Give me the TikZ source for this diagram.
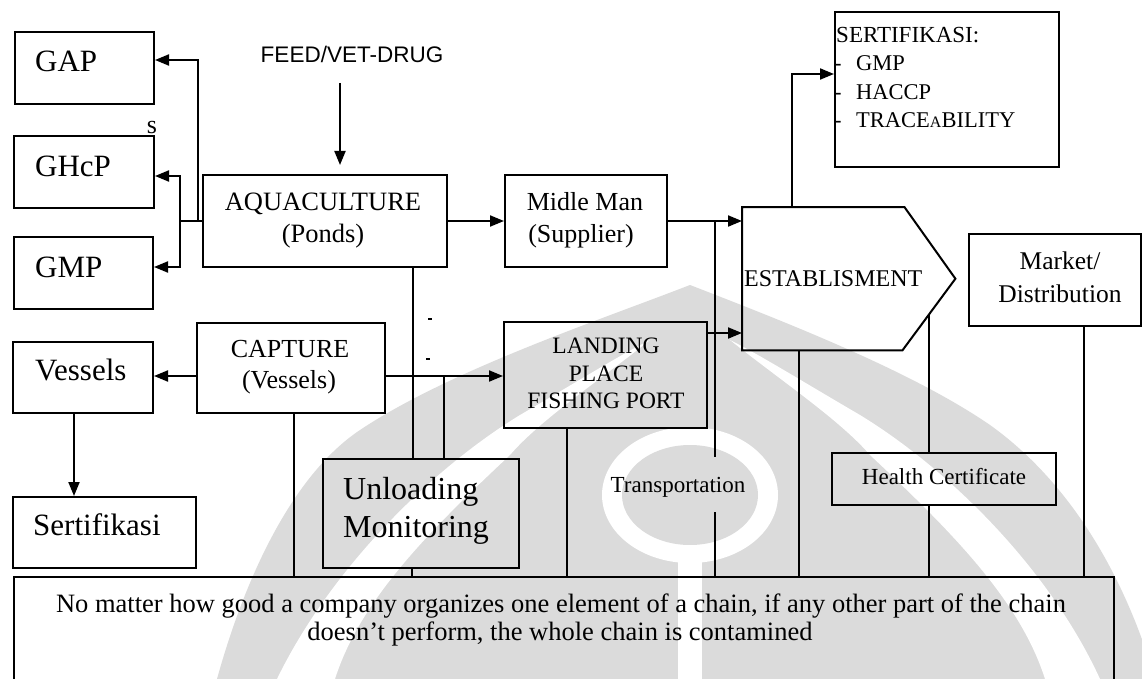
\documentclass[tikz,border=0pt]{standalone}
\usepackage{fontspec}
\setmainfont{Liberation Serif}[Ligatures={TeX,NoCommon}]
\newfontfamily\labelsans{Liberation Sans}
\usetikzlibrary{arrows.meta,calc}
\newcommand{\fsz}[1]{\fontsize{#1}{#1}\selectfont}

\begin{document}
\begin{tikzpicture}[x=1pt,y=-1pt,
  box/.style={draw, line width=2pt, inner sep=0pt, anchor=north west},
  area/.style={inner sep=0pt, anchor=north west},
  link/.style={line width=2pt},
  arr/.style={link, -{Triangle[length=14pt,width=11pt]}},
  lbl/.style={inner sep=0pt, anchor=base west},
  clbl/.style={inner sep=0pt, anchor=base},
  wm/.style={fill=black!14}]

\useasboundingbox (0,0) rectangle (1142,679);
\fill[white] (0,0) rectangle (1142,679);

% faint emblem behind the chart
\fill[wm] (217,679) .. controls (250,560) and (300,470) .. (360,430)
          .. controls (450,370) and (600,320) .. (690,285)
          .. controls (780,320) and (910,370) .. (990,425)
          .. controls (1060,475) and (1120,560) .. (1155,679) -- cycle;
\fill[white] (277,679) .. controls (330,570) and (430,470) .. (520,415)
          .. controls (580,380) and (620,355) .. (650,340)
          .. controls (600,380) and (540,420) .. (510,455)
          .. controls (430,530) and (360,600) .. (335,679) -- cycle;
\fill[white] (1100,679) .. controls (1050,570) and (950,470) .. (860,415)
          .. controls (800,380) and (760,355) .. (730,340)
          .. controls (780,380) and (840,420) .. (870,455)
          .. controls (950,530) and (1020,600) .. (1045,679) -- cycle;
\fill[white] (690,495) ellipse [x radius=88pt, y radius=68pt];
\fill[wm] (690,495) ellipse [x radius=68pt, y radius=50pt];
\fill[white] (678,545) rectangle (702,690);

% boxes
\node[box, minimum width=139, minimum height=72] (gap) at (14,31) {};
\node[box, minimum width=140, minimum height=72] (ghcp) at (13,135) {};
\node[box, minimum width=139, minimum height=72] (gmp) at (13,236) {};
\node[box, minimum width=244, minimum height=92] (aqua) at (202,174) {};
\node[box, minimum width=162, minimum height=92] (midle) at (504,174) {};
\node[box, minimum width=224, minimum height=155] (sert) at (834,11) {};
\node[area, minimum width=213, minimum height=143] (estab) at (742,207) {};
\node[box, minimum width=172, minimum height=92] (market) at (968,233) {};
\node[box, minimum width=188, minimum height=90] (capture) at (196,322) {};
\node[box, minimum width=140, minimum height=71] (vessels) at (12,341) {};
\node[box, minimum width=183, minimum height=71] (sertL) at (12,496) {};
\node[box, minimum width=196, minimum height=109] (unload) at (322,458) {};
\node[box, minimum width=203, minimum height=106] (landing) at (503,321) {};
\node[box, minimum width=224, minimum height=52] (health) at (831,452) {};
\node[box, minimum width=1100, minimum height=140] (bottom) at (13,576) {};

% establishment outline (pointing right)
\draw[line width=2pt, line join=miter]
  (estab.north west) -- ([xshift=-51pt]estab.north east) -- (estab.east)
  -- ([xshift=-53pt]estab.south east) -- (estab.south west) -- cycle;

% labels
\node[lbl, font=\fsz{31}] (tgap) at (35,72) {GAP};
\node[lbl, font=\fsz{31}] (tghcp) at (35,176) {GHcP};
\node[lbl, font=\fsz{31}] (tgmp) at (35,277) {GMP};
\node[clbl, font=\fsz{26}] (ts) at (152,134) {s};
\node[clbl, font=\labelsans\fsz{22.5}] (feed) at (352,63) {FEED/VET-DRUG};
\node[clbl, font=\fsz{26.5}] (taqua1) at (323,211) {AQUACULTURE};
\node[clbl, font=\fsz{26.5}] (taqua2) at (323,242) {(Ponds)};
\node[clbl, font=\fsz{26}] (tmid1) at (585,210) {Midle Man};
\node[clbl, font=\fsz{26}] (tmid2) at (581,242) {(Supplier)};
\node[lbl, font=\fsz{23}] (tsert0) at (836,43) {SERTIFIKASI:};
\node[lbl, font=\fsz{22.5}] (tsert1) at (834,71) {\makebox[22pt][l]{-}GMP};
\node[lbl, font=\fsz{22.5}] (tsert2) at (834,100) {\makebox[22pt][l]{-}HACCP};
\node[lbl, font=\fsz{22.5}] (tsert3) at (834,128) {\makebox[22pt][l]{-}TRACE{\fsz{16}A}BILITY};
\node[lbl, font=\fsz{24}] (testab) at (744,286) {ESTABLISMENT};
\node[clbl, font=\fsz{25.5}] (tmk1) at (1060,269) {Market/};
\node[clbl, font=\fsz{25.5}] (tmk2) at (1060,302) {Distribution};
\node[clbl, font=\fsz{26}] (tcap1) at (290,357) {CAPTURE};
\node[clbl, font=\fsz{26}] (tcap2) at (289,388) {(Vessels)};
\node[lbl, font=\fsz{31}] (tves) at (35,380) {Vessels};
\node[lbl, font=\fsz{31}] (tsertl) at (33,535) {Sertifikasi};
\node[lbl, font=\fsz{32}] (tunl1) at (343,499) {Unloading};
\node[lbl, font=\fsz{32}] (tunl2) at (343,537) {Monitoring};
\node[clbl, font=\fsz{23.5}] (tland1) at (606,353) {LANDING};
\node[clbl, font=\fsz{23.5}] (tland2) at (606,381) {PLACE};
\node[clbl, font=\fsz{23.5}] (tland3) at (606,408) {FISHING PORT};
\node[clbl, font=\fsz{23}] (ttrans) at (678,492) {Transportation};
\node[clbl, font=\fsz{23}] (thealth) at (944,484) {Health Certificate};
\node[clbl, font=\fsz{26.5}] (tbot1) at (561,612)
  {No matter how good a company organizes one element of a chain, if any other part of the chain};
\node[clbl, font=\fsz{26.5}] (tbot2) at (560,640)
  {doesn’t perform, the whole chain is contamined};

% helper points
\coordinate (feedtop) at (340,83);
\coordinate (cl) at ($(capture.east)+(0,8)$);
\coordinate (cw) at ($(capture.west)+(0,8)$);
\coordinate (tr1) at (715,457);
\coordinate (tr2) at (715,512);
\coordinate (hd) at ($([xshift=-53pt]estab.south east)!0.51!(estab.east)$);

% aquaculture to the three good-practice boxes
\draw[arr] (aqua.west) -- ++(-4,0) |- ([yshift=8pt]gap.east);
\draw[arr] (aqua.west) -- ++(-22,0) |- ([yshift=-4pt]ghcp.east);
\draw[arr] (aqua.west) -- ++(-22,0) |- ([yshift=6pt]gmp.east);

% main flow
\draw[arr, shorten >=9pt] (feedtop) -- (feedtop |- aqua.north);
\draw[arr] (aqua.east) -- (midle.west);
\draw[arr] (midle.east) -- (midle.east -| estab.west);
\draw[arr] ([xshift=-56.5pt]estab.north) |- ([yshift=15.5pt]sert.west);
\draw[arr] ([yshift=42pt]landing.east) -- ([yshift=42pt]landing.east -| estab.west);
\draw[arr] (cw) -- (cw -| vessels.east);
\draw[arr] (cl) -- (cl -| landing.west);
\draw[arr] ([xshift=-9pt]vessels.south) -- ([xshift=-9pt]vessels.south |- sertL.north);

% transportation line
\draw[link] (midle.east -| tr1) -- (tr1);
\draw[link] (tr2) -- (tr2 |- bottom.north);

% unloading monitoring
\draw[link] ([xshift=88pt]aqua.south) -- ([xshift=88pt]aqua.south |- unload.north);
\draw[link] ([xshift=-9pt]unload.south) -- ([xshift=-9pt]unload.south |- bottom.north);
\draw[link] ([xshift=23pt]unload.north) -- ([xshift=23pt]unload.north |- cl);

% drops to the chain statement
\draw[link] ([xshift=3pt]capture.south) -- ([xshift=3pt]capture.south |- bottom.north);
\draw[link] ([xshift=-38.5pt]landing.south) -- ([xshift=-38.5pt]landing.south |- bottom.north);
\draw[link] ([xshift=-49.5pt]estab.south) -- ([xshift=-49.5pt]estab.south |- bottom.north);
\draw[link] (hd) -- (hd |- health.north);
\draw[link] (hd |- health.south) -- (hd |- bottom.north);
\draw[link] ([xshift=29pt]market.south) -- ([xshift=29pt]market.south |- bottom.north);

% small stray ticks
\draw[line width=1.2pt] (428,319) -- (432,319);
\draw[line width=1.2pt] (426,359) -- (430,359);
\end{tikzpicture}
\end{document}
